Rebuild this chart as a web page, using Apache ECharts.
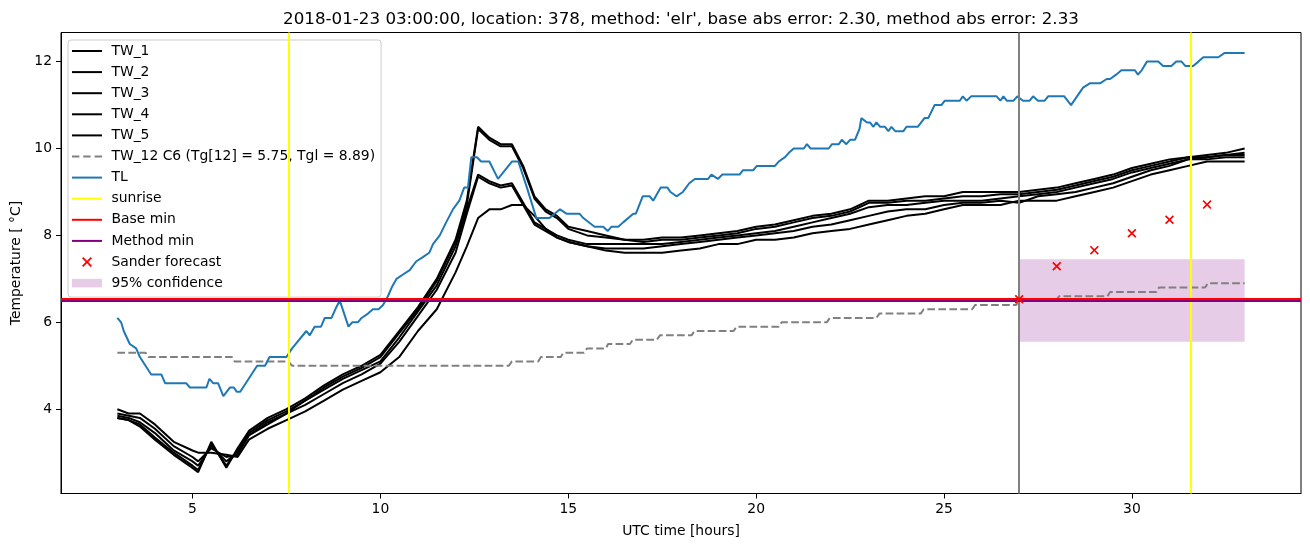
<!DOCTYPE html>
<html>
<head>
<meta charset="utf-8">
<script src="https://cdn.jsdelivr.net/npm/echarts@6/dist/echarts.min.js"></script>
<style>
html,body{margin:0;padding:0;background:#fff;}
#chart{width:1310px;height:547px;}
</style>
</head>
<body>
<div id="chart"></div>
<script>
// ---------------- data ----------------
const xTicks = [5, 10, 15, 20, 25, 30];
const yTicks = [4, 6, 8, 10, 12];

const twHours = [3.0,3.3,3.6,4.0,4.5,5.0,5.15,5.5,5.9,6.2, 6.5,7.0,7.5,8.0,8.5,9.0,9.5,10.0,10.5,11.0,
  11.5,12.0,12.3,12.6,12.9,13.2,13.5,13.8,14.1,14.4, 14.7,15.0,
  15.5,16.0,16.5,17.0,17.5,18.0,18.5,19.0,19.5,20.0,
  20.5,21.0,21.5,22.0,22.5,23.0,23.5,24.0,24.5,25.0,
  25.5,26.0,26.5,27.0,27.5,28.0,28.5,29.0,29.5,30.0,
  30.5,31.0,31.5,32.0,32.5,33.0];

const tw1 = [3.8,3.75,3.6,3.3,2.95,2.65,2.55,3.25,2.65,3.1, 3.5,3.8,4.0,4.25,4.55,4.8,5.0,5.25,5.8,6.35,
  7.0,7.9,8.8,10.5,10.25,10.1,10.1,9.6,8.9,8.6, 8.45,8.2,
  8.1,8.0,7.9,7.9,7.95,7.95,8.0,8.05,8.1,8.2,
  8.25,8.35,8.45,8.5,8.6,8.8,8.8,8.85,8.9,8.9,
  9.0,9.0,9.0,9.0,9.05,9.1,9.2,9.3,9.4,9.55,
  9.65,9.75,9.8,9.85,9.9,10.0];
const tw2 = [3.8,3.75,3.65,3.35,3.0,2.7,2.6,3.2,2.7,3.05, 3.45,3.75,3.95,4.2,4.5,4.75,4.95,5.2,5.75,6.3,
  6.95,7.85,8.7,10.45,10.2,10.05,10.05,9.55,8.85,8.55, 8.4,8.15,
  8.0,7.95,7.9,7.85,7.9,7.9,7.95,8.0,8.05,8.15,
  8.2,8.3,8.4,8.45,8.55,8.75,8.75,8.8,8.8,8.85,
  8.9,8.9,8.95,8.95,9.0,9.05,9.15,9.25,9.35,9.5,
  9.6,9.7,9.8,9.8,9.85,9.9];
const tw3 = [3.85,3.8,3.7,3.45,3.05,2.8,2.7,3.15,2.8,3.0, 3.4,3.7,3.9,4.2,4.45,4.7,4.9,5.1,5.65,6.25,
  6.85,7.75,8.6,9.4,9.25,9.15,9.2,8.75,8.3,8.15, 8.0,7.9,
  7.8,7.8,7.8,7.8,7.8,7.85,7.9,7.95,8.0,8.05,
  8.1,8.2,8.3,8.4,8.5,8.65,8.7,8.7,8.75,8.8,
  8.8,8.8,8.85,8.9,8.95,9.0,9.1,9.2,9.3,9.45,
  9.55,9.65,9.75,9.8,9.85,9.85];
const tw4 = [3.9,3.85,3.8,3.55,3.15,2.9,2.8,3.1,2.9,2.95, 3.4,3.65,3.9,4.1,4.35,4.6,4.8,5.05,5.55,6.15,
  6.75,7.6,8.5,9.35,9.2,9.1,9.15,8.7,8.25,8.1, 7.95,7.85,
  7.75,7.7,7.7,7.7,7.75,7.8,7.85,7.9,7.95,8.0,
  8.05,8.1,8.2,8.25,8.35,8.45,8.55,8.6,8.6,8.7,
  8.75,8.75,8.8,8.75,8.9,8.95,9.0,9.1,9.2,9.35,
  9.5,9.6,9.75,9.75,9.8,9.8];
const tw5 = [4.0,3.9,3.9,3.65,3.25,3.05,3.0,3.0,2.95,2.9, 3.3,3.55,3.75,3.95,4.2,4.45,4.65,4.85,5.2,5.8,
  6.3,7.15,7.75,8.4,8.6,8.6,8.7,8.7,8.45,8.15, 7.95,7.85,
  7.75,7.65,7.6,7.6,7.6,7.65,7.7,7.8,7.8,7.9,
  7.9,7.95,8.05,8.1,8.15,8.25,8.35,8.45,8.5,8.6,
  8.7,8.7,8.7,8.8,8.8,8.8,8.9,9.0,9.1,9.25,
  9.4,9.5,9.6,9.7,9.7,9.7];

const tw12Hours = [3.0,3.75,3.83,6.05,6.12,7.55,7.65,13.42,13.5,14.2,14.27,14.8,14.87,15.42,15.5,16.0,16.06,16.64,
  16.72,17.36,17.44,18.28,18.36,19.4,19.48,20.6,20.68,21.88,21.96,23.2,23.28,24.38,24.46,25.75,25.83,26.92,
  27.0,27.98,28.06,29.35,29.42,30.65,30.72,31.95,32.02,33.0];
const tw12Values = [5.3,5.3,5.2,5.2,5.1,5.1,5.0,5.0,5.1,5.1,5.2,5.2,5.3,5.3,5.4,5.4,5.5,5.5,
  5.6,5.6,5.7,5.7,5.8,5.8,5.9,5.9,6.0,6.0,6.1,6.1,6.2,6.2,6.3,6.3,6.4,6.4,
  6.5,6.5,6.6,6.6,6.7,6.7,6.8,6.8,6.9,6.9];

const tlHours = [3.0,3.1,3.17,3.33,3.5,3.6,3.9,4.17,4.27,4.83,4.93,5.37,5.45,5.55,5.68,5.82,6.0,6.1,6.18,6.27,
  6.72,6.93,7.05,7.5,7.65,8.03,8.12,8.25,8.42,8.52,8.7,8.8,8.92,9.15,9.25,9.4,9.5,9.67,9.8,9.95,
  10.07,10.2,10.3,10.43,10.6,10.78,10.95,11.13,11.3,11.4,11.58,11.75,11.93,12.1,12.23,12.33,12.42,12.57,12.68,12.9,
  13.13,13.5,13.67,13.9,14.15,14.5,14.78,14.95,15.3,15.4,15.7,15.93,16.05,16.15,16.33,16.46,16.73,16.8,16.98,17.17,
  17.26,17.46,17.64,17.72,17.88,18.05,18.22,18.37,18.72,18.81,18.98,19.1,19.56,19.65,19.92,20.02,20.5,20.6,20.77,20.87,
  21.0,21.27,21.35,21.45,21.93,22.02,22.2,22.28,22.4,22.5,22.63,22.75,22.8,22.95,23.03,23.12,23.2,23.3,23.43,23.52,
  23.6,23.7,23.92,24.0,24.3,24.48,24.58,24.75,24.93,25.02,25.42,25.5,25.6,25.72,26.4,26.5,26.58,26.67,26.85,26.95,
  27.1,27.28,27.37,27.5,27.68,27.77,28.2,28.38,28.7,28.88,29.15,29.33,29.42,29.58,29.72,30.08,30.16,30.26,30.4,30.7,
  30.83,31.05,31.18,31.32,31.42,31.63,31.77,31.9,32.3,32.47,33.0];
const tlValues = [6.1,6.0,5.8,5.5,5.4,5.2,4.8,4.8,4.6,4.6,4.5,4.5,4.7,4.6,4.6,4.3,4.5,4.5,4.4,4.4,
  5.0,5.0,5.2,5.2,5.4,5.8,5.7,5.9,5.9,6.1,6.1,6.3,6.5,5.9,6.0,6.0,6.1,6.2,6.3,6.3,
  6.4,6.6,6.8,7.0,7.1,7.2,7.4,7.5,7.6,7.8,8.0,8.3,8.6,8.8,9.1,9.1,9.8,9.8,9.7,9.7,
  9.3,9.7,9.7,9.1,8.4,8.4,8.6,8.5,8.5,8.4,8.2,8.2,8.1,8.2,8.2,8.3,8.5,8.5,8.9,8.9,
  8.8,9.1,9.1,9.0,8.9,9.0,9.2,9.3,9.3,9.4,9.3,9.4,9.4,9.5,9.5,9.6,9.6,9.7,9.8,9.9,
  10.0,10.0,10.1,10.0,10.0,10.1,10.1,10.2,10.1,10.2,10.2,10.45,10.7,10.6,10.6,10.5,10.6,10.5,10.5,10.4,
  10.5,10.4,10.4,10.5,10.5,10.7,10.7,11.0,11.0,11.1,11.1,11.2,11.1,11.2,11.2,11.1,11.2,11.1,11.1,11.2,
  11.1,11.1,11.2,11.1,11.1,11.2,11.2,11.0,11.4,11.5,11.5,11.6,11.6,11.7,11.8,11.8,11.7,11.8,12.0,12.0,
  11.9,11.9,12.0,12.0,11.9,11.9,12.0,12.1,12.1,12.2,12.2];

const sunriseHours = [7.57, 31.57];
const forecastStartHours = [27];
const baseMinValue = [6.54];
const methodMinValue = [6.49];
const sanderHours = [27, 28, 29, 30, 31, 32];
const sanderValues = [6.53, 7.29, 7.66, 8.05, 8.36, 8.71];
const confHours = [27, 33];
const confBounds = [5.55, 7.45];

const seriesNames = ['TW_1','TW_2','TW_3','TW_4','TW_5','TW_12 C6 (Tg[12] = 5.75, Tgl = 8.89)','TL',
  'sunrise','Base min','Method min','Sander forecast','95% confidence'];

// ---------------- chart ----------------
const FONT = 'DejaVu Sans';
const pairs = (xs, ys) => xs.map((x, i) => [x, ys[i]]);
const twAll = [tw1, tw2, tw3, tw4, tw5];
const xMark = 'path://M0,1.3 L1.3,0 L5,3.7 L8.7,0 L10,1.3 L6.3,5 L10,8.7 L8.7,10 L5,6.3 L1.3,10 L0,8.7 L3.7,5 Z';
const solidIcon = 'path://M0,0 L30,0 L30,2 L0,2 Z';
const dashIcon = 'path://M0,0 L7.4,0 L7.4,2 L0,2 Z M11.2,0 L18.6,0 L18.6,2 L11.2,2 Z M22.6,0 L30,0 L30,2 L22.6,2 Z';
const rectIcon = 'path://M0,0 L28,0 L28,8 L0,8 Z';

const series = [];
twAll.forEach((vals, k) => {
  series.push({
    name: seriesNames[k], type: 'line', data: pairs(twHours, vals),
    symbol: 'none', showSymbol: false, color: '#000000',
    lineStyle: {color: '#000000', width: 2}, z: 2
  });
});
series.push({
  name: seriesNames[5], type: 'line', data: pairs(tw12Hours, tw12Values),
  symbol: 'none', showSymbol: false, color: '#808080',
  lineStyle: {color: '#808080', width: 2, type: [7.7, 3.3]}, z: 2
});
series.push({
  name: seriesNames[6], type: 'line', data: pairs(tlHours, tlValues),
  symbol: 'none', showSymbol: false, color: '#1f77b4',
  lineStyle: {color: '#1f77b4', width: 2}, z: 2
});
series.push({
  name: seriesNames[7], type: 'line', data: [], symbol: 'none', color: '#ffff00',
  lineStyle: {color: '#ffff00', width: 2}, z: 3,
  markLine: {silent: true, symbol: 'none', label: {show: false},
    lineStyle: {color: '#ffff00', width: 2, type: 'solid'},
    data: sunriseHours.map(h => ({xAxis: h}))}
});
series.push({
  name: 'forecast start', type: 'line', data: [], symbol: 'none', color: '#808080', z: 3,
  markLine: {silent: true, symbol: 'none', label: {show: false},
    lineStyle: {color: '#808080', width: 2, type: 'solid'},
    data: forecastStartHours.map(h => ({xAxis: h}))}
});
series.push({
  name: seriesNames[9], type: 'line', data: [], symbol: 'none', color: '#800080',
  lineStyle: {color: '#800080', width: 2}, z: 4,
  markLine: {silent: true, symbol: 'none', label: {show: false},
    lineStyle: {color: '#800080', width: 2, type: 'solid'},
    data: methodMinValue.map(v => ({yAxis: v}))}
});
series.push({
  name: seriesNames[8], type: 'line', data: [], symbol: 'none', color: '#ff0000',
  lineStyle: {color: '#ff0000', width: 2}, z: 5,
  markLine: {silent: true, symbol: 'none', label: {show: false},
    lineStyle: {color: '#ff0000', width: 2, type: 'solid'},
    data: baseMinValue.map(v => ({yAxis: v}))}
});
series.push({
  name: seriesNames[10], type: 'scatter', data: pairs(sanderHours, sanderValues),
  symbol: xMark, symbolSize: 9, color: '#ff0000', itemStyle: {color: '#ff0000', opacity: 1}, z: 6
});
series.push({
  name: seriesNames[11], type: 'line', data: [], symbol: 'none', color: 'rgba(128,0,128,0.2)', z: 1,
  markArea: {silent: true, itemStyle: {color: 'rgba(128,0,128,0.2)'},
    data: [[{xAxis: confHours[0], yAxis: confBounds[0]}, {xAxis: confHours[1], yAxis: confBounds[1]}]]}
});

const legendData = seriesNames.map(n => {
  if (n === '95% confidence') return {name: n, icon: rectIcon};
  if (n === 'Sander forecast') return {name: n, icon: xMark};
  if (n.indexOf('TW_12') === 0) return {name: n, icon: dashIcon};
  return {name: n, icon: solidIcon};
});

const chart = echarts.init(document.getElementById('chart'), null, {renderer: 'canvas'});
chart.setOption({
  animation: false,
  backgroundColor: '#ffffff',
  textStyle: {fontFamily: FONT},
  title: {
    text: "2018-01-23 03:00:00, location: 378, method: 'elr', base abs error: 2.30, method abs error: 2.33",
    left: 676, top: 6, textAlign: 'center',
    textStyle: {fontFamily: FONT, fontSize: 16.7, fontWeight: 'normal', color: '#000'}
  },
  legend: {
    orient: 'vertical', left: 68, top: 40,
    padding: [3, 6, 6, 4],
    itemWidth: 30, itemHeight: 10, itemGap: 5.1,
    backgroundColor: 'rgba(255,255,255,0.8)', borderColor: '#cccccc', borderWidth: 1, borderRadius: 3,
    symbolKeepAspect: true,
    data: legendData,
    formatter: n => ' ' + n,
    textStyle: {fontFamily: FONT, fontSize: 13.9, color: '#000', lineHeight: 16}
  },
  grid: {left: 61, top: 32.5, width: 1240, height: 461, show: true, borderColor: '#000', borderWidth: 1, backgroundColor: 'transparent'},
  xAxis: {
    type: 'value', min: 1.5, max: 34.5,
    name: 'UTC time [hours]', nameLocation: 'middle', nameGap: 31,
    nameTextStyle: {fontFamily: FONT, fontSize: 13.9, color: '#000'},
    axisLine: {show: true, onZero: false, lineStyle: {color: '#000', width: 1}},
    axisTick: {show: true, inside: false, length: 5, customValues: xTicks, lineStyle: {color: '#000', width: 1}},
    axisLabel: {customValues: xTicks, margin: 9, fontFamily: FONT, fontSize: 13.9, color: '#000'},
    splitLine: {show: false}
  },
  yAxis: {
    type: 'value', min: 2.06, max: 12.67,
    name: 'Temperature [ °C]', nameLocation: 'middle', nameGap: 32,
    nameTextStyle: {fontFamily: FONT, fontSize: 13.9, color: '#000'},
    axisLine: {show: true, onZero: false, lineStyle: {color: '#000', width: 1}},
    axisTick: {show: true, inside: false, length: 5, customValues: yTicks, lineStyle: {color: '#000', width: 1}},
    axisLabel: {customValues: yTicks, margin: 9, fontFamily: FONT, fontSize: 13.9, color: '#000'},
    splitLine: {show: false}
  },
  series: series
});
</script>
</body>
</html>
